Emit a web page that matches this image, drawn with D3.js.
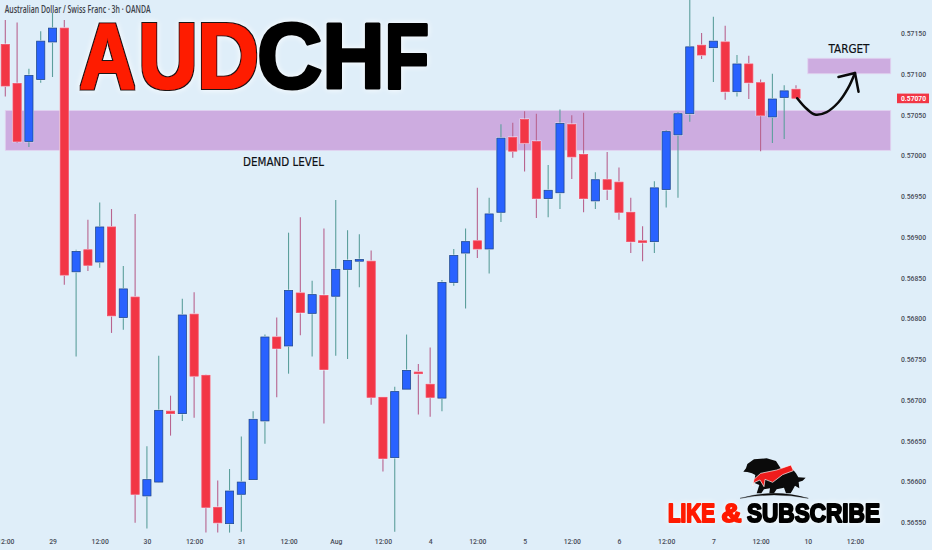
<!DOCTYPE html>
<html><head><meta charset="utf-8">
<script src="https://cdn.jsdelivr.net/npm/d3@7"></script>
<style>
html,body{margin:0;padding:0;background:#dfeef9;overflow:hidden}
svg{display:block}
.tick text{font-family:Roboto,sans-serif;font-size:8px;font-weight:500;fill:#474b57}
</style></head><body>
<svg id="c" width="932" height="550">
<defs>
<filter id="outline" x="-20%" y="-20%" width="140%" height="140%">
<feMorphology in="SourceAlpha" operator="dilate" radius="1.7" result="fat"/>
<feFlood flood-color="#1c1212"/>
<feComposite in2="fat" operator="in" result="edge"/>
<feMorphology in="SourceGraphic" operator="dilate" radius="0.75" result="inner"/>
<feMerge><feMergeNode in="edge"/><feMergeNode in="inner"/></feMerge>
</filter>
</defs>
</svg>
<script>
const opens=[0.57136,0.57088,0.57017,0.57093,0.57139,0.57156,0.56857,0.56884,0.56869,0.56912,
0.56801,0.56826,0.56582,0.56599,0.56686,0.56683,0.56805,0.56730,0.56568,0.56548,
0.56584,0.56602,0.56674,0.56777,0.56766,0.56831,0.56806,0.56828,0.56827,0.56860,
0.56870,0.56870,0.56703,0.56629,0.56713,0.56734,0.56719,0.56702,0.56844,0.56880,
0.56895,0.56885,0.56930,0.57022,0.57044,0.57017,0.56947,0.56954,0.57038,0.57001,
0.56944,0.56970,0.56967,0.56930,0.56895,0.56894,0.56958,0.57025,0.57051,0.57135,
0.57132,0.57139,0.57078,0.57112,0.57089,0.57047,0.57071,0.57081];
const closes=[0.57085,0.57017,0.57098,0.57140,0.57156,0.56853,0.56882,0.56865,0.56912,0.56803,
0.56836,0.56584,0.56602,0.56687,0.56683,0.56804,0.56729,0.56568,0.56549,0.56588,
0.56599,0.56676,0.56777,0.56763,0.56834,0.56807,0.56829,0.56737,0.56860,0.56871,
0.56872,0.56703,0.56628,0.56710,0.56736,0.56732,0.56703,0.56844,0.56877,0.56894,
0.56885,0.56928,0.57021,0.57005,0.57015,0.56947,0.56957,0.57039,0.56998,0.56947,
0.56970,0.56958,0.56930,0.56894,0.56893,0.56960,0.57029,0.57051,0.57133,0.57123,
0.57140,0.57078,0.57112,0.57089,0.57049,0.57069,0.57079,0.57070];
const highs=[0.57166,0.57163,0.57106,0.57152,0.57175,0.57166,0.56884,0.56921,0.56942,0.56934,
0.56864,0.56928,0.56643,0.56754,0.56705,0.56824,0.56832,0.56731,0.56601,0.56615,
0.56655,0.56686,0.56780,0.56801,0.56905,0.56924,0.56846,0.56910,0.56945,0.56908,
0.56903,0.56883,0.56703,0.56716,0.56780,0.56744,0.56764,0.56847,0.56885,0.56910,
0.56960,0.56948,0.57038,0.57040,0.57054,0.57051,0.56988,0.57056,0.57049,0.57052,
0.56979,0.57004,0.56985,0.56948,0.56913,0.56968,0.57031,0.57053,0.57200,0.57150,
0.57170,0.57159,0.57123,0.57122,0.57093,0.57100,0.57086,0.57086];
const lows=[0.57072,0.57015,0.57010,0.57089,0.57096,0.56841,0.56753,0.56858,0.56862,0.56782,
0.56786,0.56549,0.56542,0.56598,0.56656,0.56674,0.56678,0.56537,0.56537,0.56537,
0.56538,0.56602,0.56646,0.56703,0.56732,0.56779,0.56753,0.56671,0.56754,0.56750,
0.56838,0.56694,0.56612,0.56538,0.56713,0.56682,0.56679,0.56686,0.56840,0.56812,
0.56874,0.56855,0.56918,0.56997,0.56980,0.56923,0.56924,0.56934,0.56971,0.56930,
0.56934,0.56945,0.56921,0.56880,0.56870,0.56880,0.56936,0.56948,0.57041,0.57118,
0.57090,0.57068,0.57072,0.57069,0.57005,0.57015,0.57020,0.57070];

const xTickIndex=[0,4,8,12,16,20,24,28,32,36,40,44,48,52,56,60,64,68,72];
const xTickLabels=["12:00","29","12:00","30","12:00","31","12:00","Aug","12:00","4","12:00","5","12:00","6","12:00","7","12:00","10","12:00"];
const yTickValues=[0.5715,0.571,0.5705,0.57,0.5695,0.569,0.5685,0.568,0.5675,0.567,0.5665,0.566,0.5655];
const lastPrice=0.5707;
const demandZone=[0.57055,0.57006];
const targetZone=[0.57119,0.57100];
const arrowIdx=[67.1,67.9,68.6,69.6,70.6,71.4,72];
const arrowPrice=[0.57070,0.57057,0.57050,0.57053,0.57065,0.57082,0.57101];
const arrowHeadIdx=[70.6,72,72.3];
const arrowHeadPrice=[0.57096,0.57101,0.57078];

const svg=d3.select("#c");
const x=d3.scaleLinear().domain([0,72]).range([5.3,855]);
const y=d3.scaleLinear().domain([0.5715,0.5655]).range([33,522]);
const BW=8.2;

// zones
const zones=svg.append("g");
zones.append("rect").attr("x",x(0)).attr("width",890.7-x(0))
 .attr("y",y(demandZone[0])).attr("height",y(demandZone[1])-y(demandZone[0]))
 .attr("fill","#cdace0").attr("stroke","#e2d3f0").attr("stroke-width",0.8);
zones.append("rect").attr("x",x(68)).attr("width",890.7-x(68))
 .attr("y",y(targetZone[0])).attr("height",y(targetZone[1])-y(targetZone[0]))
 .attr("fill","#cdace0").attr("stroke","#e2d3f0").attr("stroke-width",0.8);

// candles
const idx=d3.range(opens.length);
const isUp=i=>closes[i]>opens[i];
const g=svg.append("g");
g.selectAll(".w").data(idx).join("line").attr("class","w")
 .attr("x1",x).attr("x2",x).attr("y1",i=>y(highs[i])).attr("y2",i=>y(lows[i]))
 .attr("stroke",i=>isUp(i)?"#5c9f9c":"#b8648f").attr("stroke-width",1.1);
g.selectAll(".h").data(idx).join("rect").attr("class","h")
 .attr("x",i=>x(i)-BW/2-0.8).attr("width",BW+1.6)
 .attr("y",i=>y(Math.max(opens[i],closes[i]))-0.8)
 .attr("height",i=>Math.abs(y(opens[i])-y(closes[i]))+1.6)
 .attr("fill","#f2f8fd");
g.selectAll(".b").data(idx).join("rect").attr("class","b")
 .attr("x",i=>x(i)-BW/2).attr("width",BW)
 .attr("y",i=>y(Math.max(opens[i],closes[i])))
 .attr("height",i=>Math.max(1.2,Math.abs(y(opens[i])-y(closes[i]))))
 .attr("fill",i=>isUp(i)?"#2962ff":"#f23645")
 .attr("stroke",i=>isUp(i)?"#1f4a8f":"#f0506a").attr("stroke-width",0.8);

// axes
const ax=svg.append("g").attr("transform","translate(0,538)")
 .call(d3.axisBottom(x).tickValues(xTickIndex).tickSize(0).tickPadding(0)
 .tickFormat(d=>xTickLabels[xTickIndex.indexOf(d)]));
ax.select(".domain").remove();
const ay=svg.append("g").attr("transform","translate(901,0)")
 .call(d3.axisRight(y).tickValues(yTickValues).tickSize(0).tickPadding(0).tickFormat(d3.format(".5f")));
ay.select(".domain").remove();
svg.selectAll(".tick text").each(function(){
  const len=this.getComputedTextLength();
  d3.select(this).attr("textLength",len*0.85).attr("lengthAdjust","spacingAndGlyphs");
});

// last price tag
svg.append("rect").attr("x",897).attr("y",y(lastPrice)-4.6).attr("width",32).attr("height",9.6).attr("fill","#f23645");
svg.append("text").attr("x",901).attr("y",y(lastPrice)+2.9).text(d3.format(".5f")(lastPrice))
 .attr("font-family","Roboto,sans-serif").attr("font-size",8).attr("font-weight",700).attr("fill","#fff")
 .attr("textLength",25).attr("lengthAdjust","spacingAndGlyphs");

// title line
svg.append("text").attr("x",4.7).attr("y",13.3).text("Australian Dollar / Swiss Franc · 3h · OANDA")
 .attr("font-family","Open Sans,sans-serif").attr("font-size",9.8).attr("font-weight",600).attr("fill","#3c4048")
 .attr("textLength",146).attr("lengthAdjust","spacingAndGlyphs");

// big heading
const letters=[["A",79.5,56,"#fe1a00"],["U",138.6,59,"#fe1a00"],["D",197.3,61.5,"#fe1a00"],["C",256.9,65.5,"#000"],["H",322.2,62.5,"#000"],["F",384.3,45,"#000"]];
const head=svg.append("g").style("filter","drop-shadow(0 0 3px #fff)");
const bigLetter=(t,lx,w,fill,stroke,sw)=>head.append("text").attr("x",lx).attr("y",88).text(t)
  .attr("font-family","Liberation Sans,Arial,sans-serif").attr("font-weight",700).attr("font-size",92)
  .attr("fill",fill).attr("stroke",stroke).attr("stroke-width",sw).attr("stroke-linejoin","round")
  .attr("textLength",w).attr("lengthAdjust","spacingAndGlyphs");
letters.forEach(([t,lx,w,c])=>{
 if(c==="#000"){bigLetter(t,lx,w,c,c,3.2);}
 else{bigLetter(t,lx,w,c,"none",0).attr("filter","url(#outline)");}
});

// annotations
const ann=(t,cx,cy,w)=>svg.append("text").attr("x",cx).attr("y",cy).attr("text-anchor","middle").text(t)
 .attr("font-family","DejaVu Sans,sans-serif").attr("font-size",13).attr("fill","#0c0f14")
 .attr("stroke","#0c0f14").attr("stroke-width",0.2)
 .attr("textLength",w).attr("lengthAdjust","spacingAndGlyphs");
ann("DEMAND LEVEL",283.5,166,81);
ann("TARGET",849,53,41);

// arrow
const line=d3.line().curve(d3.curveCatmullRom);
svg.append("path").attr("d",line(arrowIdx.map((d,i)=>[x(d),y(arrowPrice[i])])))
 .attr("fill","none").attr("stroke","#0a0a0a").attr("stroke-width",2.5).attr("stroke-linecap","round");
svg.append("path").attr("d",d3.line()(arrowHeadIdx.map((d,i)=>[x(d),y(arrowHeadPrice[i])])))
 .attr("fill","none").attr("stroke","#0a0a0a").attr("stroke-width",2.5).attr("stroke-linecap","round").attr("stroke-linejoin","round");

// logo
const logo=svg.append("g").attr("transform","translate(630,440) scale(0.3333)");
logo.append("path").attr("d","M340 95 L348 85 L352 72 L372 58 L410 55 L438 63 L452 85 L462 88 L482 80 L498 100 L505 112 L527 113 L518 122 L506 126 L508 145 L495 137 L488 150 L482 160 L468 160 L462 143 L440 148 L432 160 L418 160 L420 145 L402 148 L394 160 L380 160 L388 135 L372 128 L376 105 L366 100 L352 96 Z").attr("fill","#0b0b0b");
logo.append("path").attr("d","M368 138 L372 118 L392 100 L440 90 L483 75 L490 92 L458 104 L428 127 L405 118 L402 140 L390 120 L372 128 Z").attr("fill","#ef1c1c").attr("stroke","#fff").attr("stroke-width",2);
logo.append("path").attr("d","M330 175 Q432 145 535 175 Q432 155 330 175 Z").attr("fill","#0b0b0b").attr("stroke","#0b0b0b").attr("stroke-width",1);

const sub=svg.append("g").style("filter","drop-shadow(0 0 3px #fff)");
const subT=(t,lx,w,c)=>sub.append("text").attr("x",lx).attr("y",522.3).text(t)
 .attr("font-family","Liberation Sans,Arial,sans-serif").attr("font-weight",700).attr("font-size",26)
 .attr("fill",c).attr("stroke",c).attr("stroke-width",2).attr("stroke-linejoin","round")
 .attr("textLength",w).attr("lengthAdjust","spacingAndGlyphs");
subT("LIKE",668,47,"#ff1a00");
subT("&",721.5,20,"#ff1a00");
subT("SUBSCRIBE",747,133,"#000");
</script>
</body></html>
